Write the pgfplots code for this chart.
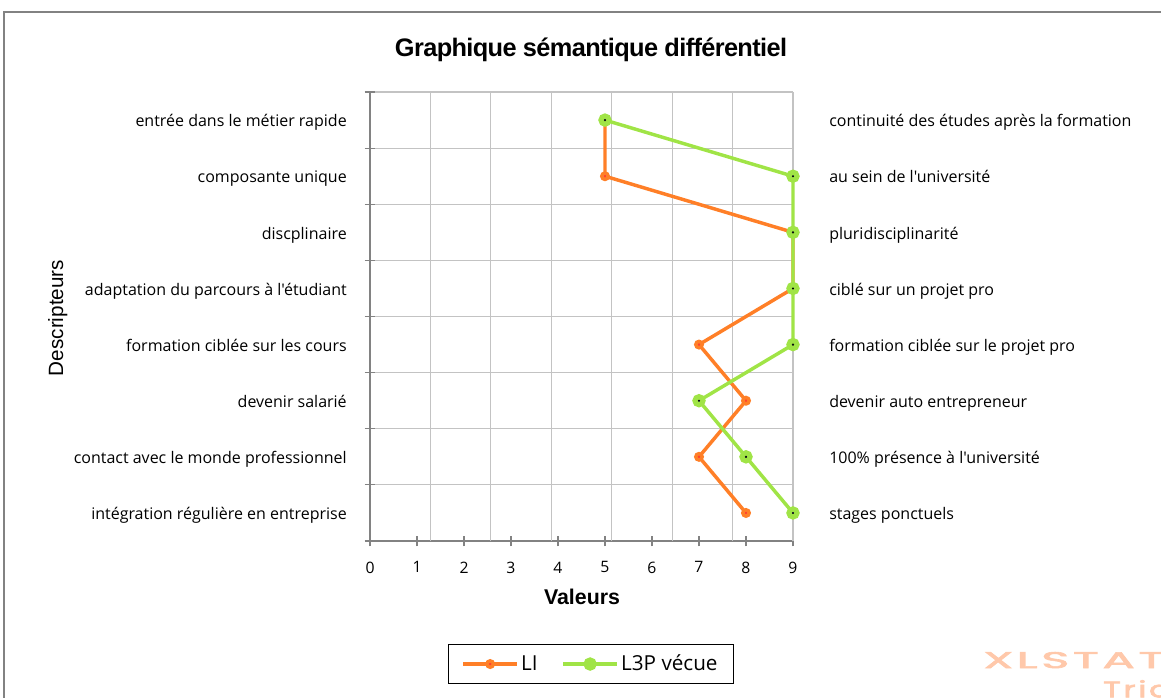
\documentclass[border=0pt]{standalone}
\usepackage{fontspec}
\setmainfont{Open Sans}[Ligatures=TeXOff]
\newfontfamily\arialf{Liberation Sans}
\newfontfamily\titlef[LetterSpace=-2.5]{Liberation Sans}
\newfontfamily\xlf[LetterSpace=8,FakeBold=2.5]{Poppins}
\usepackage{pgfplots}
\pgfplotsset{compat=1.18}
\definecolor{liorange}{RGB}{255,127,39}
\definecolor{lired}{RGB}{255,65,50}
\definecolor{lgreen}{RGB}{160,228,70}
\definecolor{bdot}{RGB}{60,90,200}
\definecolor{gridc}{RGB}{195,195,195}
\definecolor{axc}{RGB}{130,130,130}
\definecolor{wmark}{RGB}{255,200,170}
\begin{document}
\begin{tikzpicture}
\path[use as bounding box] (0,0) rectangle (870.75pt,-522.75pt);
\draw[axc, line width=0.8pt] (3pt,-530pt) -- (3pt,-9pt) -- (880pt,-9pt);
% title
\node[anchor=base, font=\titlef\bfseries\fontsize{19}{22}\selectfont] at (443.25pt,-42.5pt) {Graphique sémantique différentiel};
% x label
\node[anchor=base, font=\arialf\bfseries\fontsize{16}{19}\selectfont] at (436.5pt,-453pt) {Valeurs};
% y label
\node[anchor=base, rotate=90, font=\arialf\fontsize{15.5}{19}\selectfont] at (47.25pt,-238.5pt) {Descripteurs};
% watermark
\begin{scope}
\clip (0,0) rectangle (870.75pt,-522.75pt);
\node[anchor=base west, inner sep=0pt, text=wmark, xscale=2.1, transform shape, font=\xlf\fontsize{17}{20}\selectfont] at (737.25pt,-501pt) {XLSTAT};
\node[anchor=base west, inner sep=0pt, text=wmark, xscale=1.45, transform shape, font=\xlf\fontsize{17}{20}\selectfont] at (827pt,-523pt) {Trial};
\end{scope}
\begin{axis}[
  at={(277.5pt,-405.75pt)}, anchor=south west,
  scale only axis, width=317.25pt, height=336.75pt,
  xmin=0, xmax=9, ymin=0.5, ymax=8.5, y dir=reverse,
  clip=false,
  axis lines=left,
  axis line style={-, draw=axc, line width=1.1pt},
  xtick={0,1,...,9},
  ytick={0.5,1.5,...,8.5},
  yticklabels={},
  ymajorgrids=true,
  xmajorgrids=false,
  extra x ticks={1.285714,2.571429,3.857143,5.142857,6.428571,7.714286,9},
  extra x tick labels={},
  extra x tick style={grid=major, major tick length=0pt},
  grid style={draw=gridc, line width=0.9pt},
  major grid style={draw=gridc, line width=0.9pt},
  tick align=center,
  major tick length=8pt,
  tick style={draw=axc, line width=0.9pt},
  /pgf/number format/assume math mode=true,
  xticklabel style={font=\fontsize{11.8}{14}\selectfont, yshift=-8pt},
  legend columns=2,
  legend style={at={(axis description cs:0.5225,-0.274)}, anchor=center, draw=black, line width=0.6pt,
    font=\fontsize{15.5}{18}\selectfont, inner xsep=10pt, inner ysep=6pt,
    /tikz/every even column/.append style={column sep=16pt}},
  legend image code/.code={\draw[mark repeat=2,mark phase=2,#1] plot coordinates {(0pt,0pt) (20pt,0pt) (40pt,0pt)};},
]
\addplot[liorange, line width=2.6pt, mark=*, mark size=2.4pt, mark options={draw=none, fill=lired}]
  coordinates {(5,1) (5,2) (9,3) (9,4) (7,5) (8,6) (7,7) (8,8)};
\addlegendentry{LI}
\addplot[lgreen, line width=2.6pt, mark=*, mark size=3.7pt, mark options={draw=none, fill=lgreen}]
  coordinates {(5,1) (9,2) (9,3) (9,4) (9,5) (7,6) (8,7) (9,8)};
\addlegendentry{L3P vécue}
\addplot[forget plot, only marks, mark=*, mark size=0.6pt, mark options={draw=none, fill=bdot}]
  coordinates {(5,1) (9,2) (9,3) (9,4) (9,5) (7,6) (8,7) (9,8)};
% left labels
\tikzset{lab/.style={font=\fontsize{12}{14}\selectfont, inner sep=0pt}}
\node[lab, anchor=base east] at ([xshift=-17.25pt,yshift=-5pt]axis cs:0,1) {entrée dans le métier rapide};
\node[lab, anchor=base east] at ([xshift=-17.25pt,yshift=-5pt]axis cs:0,2) {composante unique};
\node[lab, anchor=base east] at ([xshift=-17.25pt,yshift=-5pt]axis cs:0,3) {discplinaire};
\node[lab, anchor=base east] at ([xshift=-17.25pt,yshift=-5pt]axis cs:0,4) {adaptation du parcours à l'étudiant};
\node[lab, anchor=base east] at ([xshift=-17.25pt,yshift=-5pt]axis cs:0,5) {formation ciblée sur les cours};
\node[lab, anchor=base east] at ([xshift=-17.25pt,yshift=-5pt]axis cs:0,6) {devenir salarié};
\node[lab, anchor=base east] at ([xshift=-17.25pt,yshift=-5pt]axis cs:0,7) {contact avec le monde professionnel};
\node[lab, anchor=base east] at ([xshift=-17.25pt,yshift=-5pt]axis cs:0,8) {intégration régulière en entreprise};
% right labels
\node[lab, anchor=base west] at ([xshift=27pt,yshift=-5pt]axis cs:9,1) {continuité des études après la formation};
\node[lab, anchor=base west] at ([xshift=27pt,yshift=-5pt]axis cs:9,2) {au sein de l'université};
\node[lab, anchor=base west] at ([xshift=27pt,yshift=-5pt]axis cs:9,3) {pluridisciplinarité};
\node[lab, anchor=base west] at ([xshift=27pt,yshift=-5pt]axis cs:9,4) {ciblé sur un projet pro};
\node[lab, anchor=base west] at ([xshift=27pt,yshift=-5pt]axis cs:9,5) {formation ciblée sur le projet pro};
\node[lab, anchor=base west] at ([xshift=27pt,yshift=-5pt]axis cs:9,6) {devenir auto entrepreneur};
\node[lab, anchor=base west] at ([xshift=27pt,yshift=-5pt]axis cs:9,7) {100\% présence à l'université};
\node[lab, anchor=base west] at ([xshift=27pt,yshift=-5pt]axis cs:9,8) {stages ponctuels};
\end{axis}
\end{tikzpicture}
\end{document}
